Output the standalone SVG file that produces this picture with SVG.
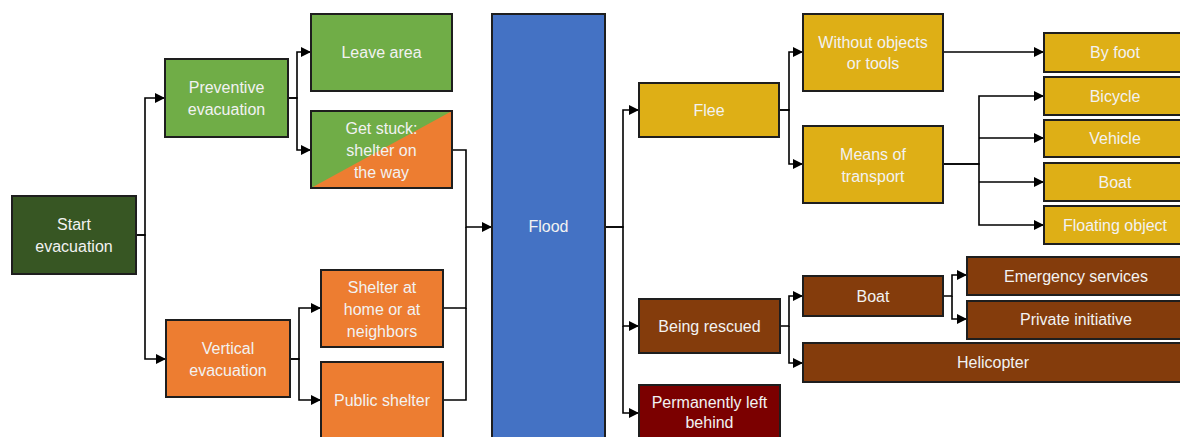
<svg xmlns="http://www.w3.org/2000/svg" width="1180" height="437" viewBox="0 0 1180 437">
  <defs>
    <marker id="arrow" markerUnits="userSpaceOnUse" markerWidth="11" markerHeight="10" refX="10" refY="5" orient="auto">
      <path d="M0,0 L10,5 L0,10 Z" fill="#000"/>
    </marker>
    <clipPath id="stuckClip">
      <rect x="311" y="111" width="141" height="77"/>
    </clipPath>
  </defs>
  <style>
    .box { stroke: #1e1e1e; stroke-width: 2; }
    .dkgreen { fill: #375623; }
    .green { fill: #70AD47; }
    .orange { fill: #ED7D31; }
    .blue { fill: #4472C4; }
    .gold { fill: #DEAF16; }
    .brown { fill: #843C0C; }
    .maroon { fill: #7B0000; }
    .lbl { font-family: "Liberation Sans", Arial, sans-serif; font-size: 16px; fill: #F2F2F2; text-anchor: middle; }
    .conn { fill: none; stroke: #000; stroke-width: 1.6; }
  </style>
  <rect width="1180" height="437" fill="#fff"/>

  <g id="connectors">
    <path class="conn" d="M136,235 H145 V98 H165" marker-end="url(#arrow)"/>
    <path class="conn" d="M136,235 H145 V359 H166" marker-end="url(#arrow)"/>
    <path class="conn" d="M288,98 H297 V52 H311" marker-end="url(#arrow)"/>
    <path class="conn" d="M288,98 H297 V150 H311" marker-end="url(#arrow)"/>
    <path class="conn" d="M290,359 H299 V308 H321" marker-end="url(#arrow)"/>
    <path class="conn" d="M290,359 H299 V400 H321" marker-end="url(#arrow)"/>
    <path class="conn" d="M452,150 H466 V227 H492" marker-end="url(#arrow)"/>
    <path class="conn" d="M443,308 H466 V227"/>
    <path class="conn" d="M443,400 H466 V308"/>
    <path class="conn" d="M605,227 H623 V110 H639" marker-end="url(#arrow)"/>
    <path class="conn" d="M605,227 H623 V326 H639" marker-end="url(#arrow)"/>
    <path class="conn" d="M623,326 V413 H639" marker-end="url(#arrow)"/>
    <path class="conn" d="M779,110 H789 V52 H803" marker-end="url(#arrow)"/>
    <path class="conn" d="M779,110 H789 V164 H803" marker-end="url(#arrow)"/>
    <path class="conn" d="M943,52 H1044" marker-end="url(#arrow)"/>
    <path class="conn" d="M943,164 H979 V96 H1044" marker-end="url(#arrow)"/>
    <path class="conn" d="M979,138 H1044" marker-end="url(#arrow)"/>
    <path class="conn" d="M979,182 H1044" marker-end="url(#arrow)"/>
    <path class="conn" d="M943,164 H979 V225 H1044" marker-end="url(#arrow)"/>
    <path class="conn" d="M780,326 H789 V296 H803" marker-end="url(#arrow)"/>
    <path class="conn" d="M789,326 V363 H803" marker-end="url(#arrow)"/>
    <path class="conn" d="M943,296 H952 V275 H967" marker-end="url(#arrow)"/>
    <path class="conn" d="M952,296 V319 H967" marker-end="url(#arrow)"/>
  </g>

  <g id="start">
    <rect class="box dkgreen" x="12" y="196" width="124" height="78"/>
    <text class="lbl" x="74" y="230">Start</text>
    <text class="lbl" x="74" y="252">evacuation</text>
  </g>
  <g id="preventive">
    <rect class="box green" x="165" y="59" width="123" height="78"/>
    <text class="lbl" x="226.5" y="92.5">Preventive</text>
    <text class="lbl" x="226.5" y="114.5">evacuation</text>
  </g>
  <g id="vertical">
    <rect class="box orange" x="166" y="320" width="124" height="77"/>
    <text class="lbl" x="228" y="353.5">Vertical</text>
    <text class="lbl" x="228" y="375.5">evacuation</text>
  </g>
  <g id="leave-area">
    <rect class="box green" x="311" y="14" width="141" height="77"/>
    <text class="lbl" x="381.5" y="58">Leave area</text>
  </g>
  <g id="get-stuck">
    <g clip-path="url(#stuckClip)">
      <rect class="orange" x="311" y="111" width="141" height="77"/>
      <polygon class="green" points="311,111 452,111 311,188"/>
    </g>
    <rect class="box" x="311" y="111" width="141" height="77" fill="none"/>
    <text class="lbl" x="381.5" y="133.5">Get stuck:</text>
    <text class="lbl" x="381.5" y="155.5">shelter on</text>
    <text class="lbl" x="381.5" y="177.5">the way</text>
  </g>
  <g id="shelter-home">
    <rect class="box orange" x="321" y="270" width="122" height="77"/>
    <text class="lbl" x="382" y="292.5">Shelter at</text>
    <text class="lbl" x="382" y="314.5">home or at</text>
    <text class="lbl" x="382" y="336.5">neighbors</text>
  </g>
  <g id="public-shelter">
    <rect class="box orange" x="321" y="362" width="122" height="80"/>
    <text class="lbl" x="382" y="405.5">Public shelter</text>
  </g>
  <g id="flood">
    <rect class="box blue" x="492" y="14" width="113" height="430"/>
    <text class="lbl" x="548.5" y="231.5">Flood</text>
  </g>
  <g id="flee">
    <rect class="box gold" x="639" y="83" width="140" height="54"/>
    <text class="lbl" x="709" y="115.5">Flee</text>
  </g>
  <g id="without-objects">
    <rect class="box gold" x="803" y="14" width="140" height="77"/>
    <text class="lbl" x="873" y="47.5">Without objects</text>
    <text class="lbl" x="873" y="69">or tools</text>
  </g>
  <g id="means-of-transport">
    <rect class="box gold" x="803" y="126" width="140" height="77"/>
    <text class="lbl" x="873" y="159.5">Means of</text>
    <text class="lbl" x="873" y="181.5">transport</text>
  </g>
  <g id="by-foot">
    <rect class="box gold" x="1044" y="33" width="142" height="39"/>
    <text class="lbl" x="1115" y="58">By foot</text>
  </g>
  <g id="bicycle">
    <rect class="box gold" x="1044" y="77" width="142" height="38"/>
    <text class="lbl" x="1115" y="101.5">Bicycle</text>
  </g>
  <g id="vehicle">
    <rect class="box gold" x="1044" y="120" width="142" height="37"/>
    <text class="lbl" x="1115" y="144">Vehicle</text>
  </g>
  <g id="boat-flee">
    <rect class="box gold" x="1044" y="163" width="142" height="38"/>
    <text class="lbl" x="1115" y="187.5">Boat</text>
  </g>
  <g id="floating-object">
    <rect class="box gold" x="1044" y="206" width="142" height="38"/>
    <text class="lbl" x="1115" y="230.5">Floating object</text>
  </g>
  <g id="being-rescued">
    <rect class="box brown" x="639" y="299" width="141" height="54"/>
    <text class="lbl" x="709.5" y="331.5">Being rescued</text>
  </g>
  <g id="left-behind">
    <rect class="box maroon" x="639" y="385" width="141" height="60"/>
    <text class="lbl" x="709.5" y="407.5">Permanently left</text>
    <text class="lbl" x="709.5" y="428">behind</text>
  </g>
  <g id="boat-rescue">
    <rect class="box brown" x="803" y="276" width="140" height="40"/>
    <text class="lbl" x="873" y="301.5">Boat</text>
  </g>
  <g id="emergency-services">
    <rect class="box brown" x="967" y="257" width="219" height="38"/>
    <text class="lbl" x="1076" y="281.5">Emergency services</text>
  </g>
  <g id="private-initiative">
    <rect class="box brown" x="967" y="301" width="219" height="38"/>
    <text class="lbl" x="1076" y="325">Private initiative</text>
  </g>
  <g id="helicopter">
    <rect class="box brown" x="803" y="343" width="383" height="39"/>
    <text class="lbl" x="993" y="368">Helicopter</text>
  </g>
</svg>
